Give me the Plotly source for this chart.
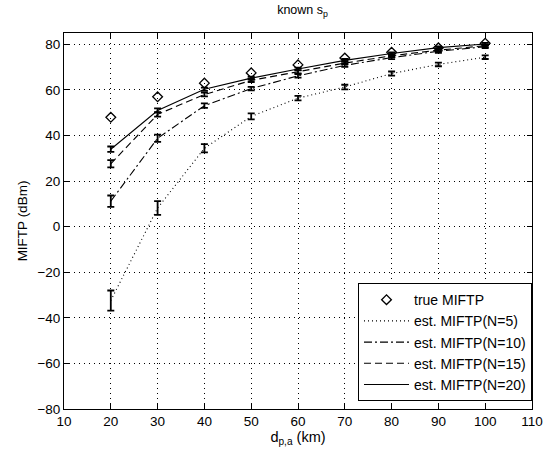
import plotly.graph_objects as go

distance_km = [20, 30, 40, 50, 60, 70, 80, 90, 100]
true_miftp = [48, 57, 63, 67.5, 71, 74, 76.5, 78.5, 80.5]
est_n5 = [-32.4, 8.2, 34.4, 48.4, 56.4, 61.3, 67.2, 71.2, 74.4]
err_n5 = [4.4, 3.0, 1.8, 1.3, 1.0, 1.0, 0.9, 0.8, 0.8]
est_n10 = [11.2, 38.8, 53.1, 60.6, 66.2, 70.8, 74.2, 77.0, 79.0]
err_n10 = [2.5, 1.6, 1.0, 0.8, 0.8, 0.7, 0.7, 0.7, 0.6]
est_n15 = [27.6, 49.3, 58.0, 64.2, 68.0, 71.8, 75.0, 77.5, 79.4]
err_n15 = [1.6, 1.0, 0.8, 0.7, 0.7, 0.6, 0.6, 0.6, 0.6]
est_n20 = [34.0, 51.0, 60.3, 65.2, 69.2, 73.0, 76.0, 78.6, 80.2]
err_n20 = [1.2, 0.9, 0.7, 0.6, 0.6, 0.6, 0.5, 0.5, 0.5]

x_ticks = [10, 20, 30, 40, 50, 60, 70, 80, 90, 100, 110]
y_ticks = [-80, -60, -40, -20, 0, 20, 40, 60, 80]

FONT = "Liberation Sans, Arial, sans-serif"

fig = go.Figure()

fig.add_trace(go.Scatter(
    x=distance_km, y=true_miftp, mode="markers", name="true MIFTP",
    marker=dict(symbol="diamond-open", size=7.5, color="black", line=dict(width=1.3, color="black")),
))

series = [
    ("est. MIFTP(N=5)", est_n5, err_n5, "1px,3px"),
    ("est. MIFTP(N=10)", est_n10, err_n10, "8px,3px,2px,3px"),
    ("est. MIFTP(N=15)", est_n15, err_n15, "7px,4px"),
    ("est. MIFTP(N=20)", est_n20, err_n20, "solid"),
]
for name, vals, errs, dash in series:
    fig.add_trace(go.Scatter(
        x=distance_km, y=vals, mode="lines", name=name,
        line=dict(color="black", width=1.1, dash=dash),
        error_y=dict(type="data", array=errs, visible=True, color="black", thickness=1.8, width=3.5),
    ))

fig.update_layout(
    width=555, height=461,
    margin=dict(l=64, r=14, t=33, b=52),
    paper_bgcolor="white", plot_bgcolor="white",
    font=dict(family=FONT, size=13, color="black"),
    title=dict(text="known s<sub>p</sub>", x=(64 + 541) / 2 / 555, xanchor="center",
               y=1 - 10 / 461, yanchor="middle", font=dict(size=12.5)),
    showlegend=True,
    legend=dict(x=1.0, y=0.021, xanchor="right", yanchor="bottom",
                bgcolor="white", bordercolor="black", borderwidth=1,
                font=dict(size=14), tracegroupgap=0, itemwidth=45),
)

fig.update_xaxes(
    range=[10, 110], tickvals=x_ticks, ticks="inside", ticklen=5, tickcolor="black",
    showline=True, linecolor="black", linewidth=1, mirror="ticks",
    showgrid=True, gridcolor="black", griddash="1px,4px", gridwidth=0.6,
    zeroline=False, title=dict(text="d<sub>p,a</sub> (km)", standoff=2, font=dict(size=14.5)),
    tickfont=dict(size=13.5),
)
fig.update_yaxes(
    range=[-80, 85], tickvals=y_ticks, ticks="inside", ticklen=5, tickcolor="black",
    showline=True, linecolor="black", linewidth=1, mirror="ticks",
    showgrid=True, gridcolor="black", griddash="1px,4px", gridwidth=0.6,
    zeroline=False, title=dict(text="MIFTP (dBm)", standoff=6, font=dict(size=13.5)),
    tickfont=dict(size=13.5),
)

fig.write_html("out.html", config={"displayModeBar": False},
               post_script="document.body.style.margin='0px';")
